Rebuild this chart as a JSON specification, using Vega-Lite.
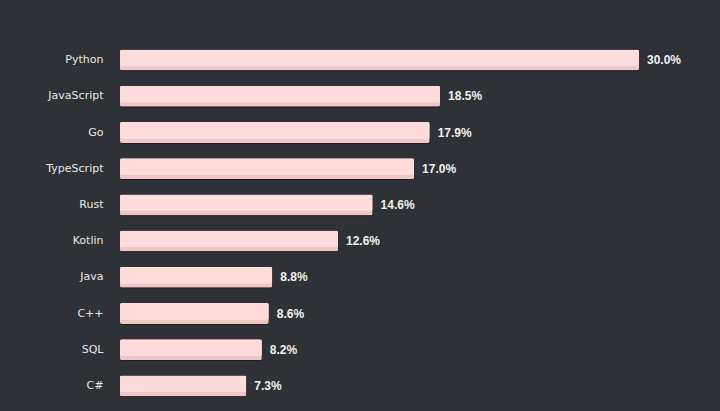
{
  "$schema": "https://vega.github.io/schema/vega-lite/v6.json",
  "width": 519,
  "height": 362,
  "autosize": "none",
  "padding": {"left": 120, "top": 42, "right": 81, "bottom": 7},
  "background": "#2e3136",
  "config": {"view": {"stroke": null}},
  "data": {"values": [
    {"lang": "Python", "share": 0.300},
    {"lang": "JavaScript", "share": 0.185},
    {"lang": "Go", "share": 0.179},
    {"lang": "TypeScript", "share": 0.170},
    {"lang": "Rust", "share": 0.146},
    {"lang": "Kotlin", "share": 0.126},
    {"lang": "Java", "share": 0.088},
    {"lang": "C++", "share": 0.086},
    {"lang": "SQL", "share": 0.082},
    {"lang": "C#", "share": 0.073}
  ]},
  "encoding": {
    "y": {"field": "lang", "type": "nominal", "sort": null,
      "scale": {"paddingInner": 0.42, "paddingOuter": 0.21},
      "axis": {"title": null, "domain": false, "ticks": false, "labelPadding": 17,
        "labelColor": "#e8e8e8", "labelFont": "DejaVu Sans", "labelFontSize": 11}},
    "x": {"field": "share", "type": "quantitative", "scale": {"domain": [0, 0.3], "nice": false},
      "axis": null}
  },
  "layer": [
    {"mark": {"type": "bar", "color": "#1c1e22", "cornerRadius": 2, "xOffset": 1, "yOffset": 1}},
    {"mark": {"type": "bar", "color": "#f0c6c6", "cornerRadius": 2}},
    {"mark": {"type": "bar", "color": "#ffdcdc", "cornerRadius": 2, "height": {"band": 0.8}, "yOffset": -2}},
    {"mark": {"type": "text", "align": "left", "dx": 8, "color": "#f2f2f2", "font": "Liberation Sans", "fontWeight": "bold", "fontSize": 12},
      "encoding": {"text": {"field": "share", "type": "quantitative", "format": ".1%"}}}
  ]
}
